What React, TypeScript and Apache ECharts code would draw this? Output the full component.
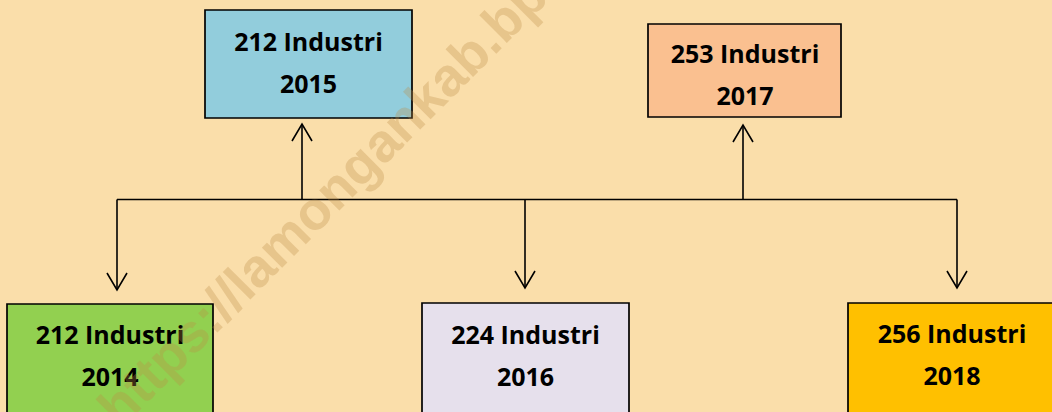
import React, { useEffect, useRef } from "react";
import * as echarts from "echarts";

// ---- Data ----
const years = ["2014", "2015", "2016", "2017", "2018"];
const industryCounts = [212, 212, 224, 253, 256];
const unitLabel = "Industri";
const watermarkText = "https://lamongankab.bps.go.id";

// ---- Styles ----
const boxColors = ["#92D050", "#92CDDC", "#E6E0EC", "#FAC090", "#FFC000"];
const BG = "#FADEAA";

// ---- Layout (diagram positions in pixel-like units of the hidden axes) ----
const boxLayout = [
  { x0: 7, y0: 304, x1: 213, y1: 440, cx: 110, cy: 355 },
  { x0: 205, y0: 10, x1: 412, y1: 118, cx: 308.5, cy: 62 },
  { x0: 422, y0: 303, x1: 629, y1: 440, cx: 525.5, cy: 355 },
  { x0: 648, y0: 24, x1: 841, y1: 117, cx: 745, cy: 74 },
  { x0: 848, y0: 303, x1: 1058, y1: 440, cx: 952, cy: 354 },
];
const BUS_Y = 199.5;
const linkLayout = [
  { x: 117, tip: 290, dir: 1 },
  { x: 302, tip: 124, dir: -1 },
  { x: 525, tip: 288, dir: 1 },
  { x: 743, tip: 125, dir: -1 },
  { x: 957, tip: 288, dir: 1 },
];

export default function App() {
  const ref = useRef<HTMLDivElement>(null);
  useEffect(() => {
    if (!ref.current) return;
    const chart = echarts.init(ref.current, null, { renderer: "svg" });
    const boxData = years.map((y, i) => [i, industryCounts[i]]);
    chart.setOption({
      animation: false,
      backgroundColor: BG,
      grid: { left: 0, right: 0, top: 0, bottom: 0 },
      xAxis: { type: "value", min: 0, max: 1052, show: false },
      yAxis: { type: "value", min: 0, max: 412, inverse: true, show: false },
      series: [
        {
          type: "custom",
          name: "bus",
          data: [[0, 0]],
          z: 1,
          renderItem: (params: any, api: any) => {
            const a = api.coord([linkLayout[0].x, BUS_Y]);
            const b = api.coord([linkLayout[linkLayout.length - 1].x, BUS_Y]);
            return {
              type: "line",
              shape: { x1: a[0], y1: a[1], x2: b[0], y2: b[1] },
              style: { stroke: "#000", lineWidth: 1.6 },
            };
          },
        },
        {
          type: "custom",
          name: "links",
          data: boxData,
          z: 1,
          renderItem: (params: any, api: any) => {
            const L = linkLayout[params.dataIndex];
            const s = api.coord([L.x, BUS_Y]);
            const t = api.coord([L.x, L.tip]);
            const back = -L.dir * 17;
            return {
              type: "group",
              children: [
                {
                  type: "line",
                  shape: { x1: s[0], y1: s[1], x2: t[0], y2: t[1] },
                  style: { stroke: "#000", lineWidth: 1.6 },
                },
                {
                  type: "polyline",
                  shape: {
                    points: [
                      [t[0] - 10, t[1] + back],
                      [t[0], t[1]],
                      [t[0] + 10, t[1] + back],
                    ],
                  },
                  style: { stroke: "#000", lineWidth: 1.6, fill: null },
                },
              ],
            };
          },
        },
        {
          type: "custom",
          name: "boxes",
          data: boxData,
          z: 2,
          renderItem: (params: any, api: any) => {
            const i = params.dataIndex;
            const B = boxLayout[i];
            const p0 = api.coord([B.x0, B.y0]);
            const p1 = api.coord([B.x1, B.y1]);
            const c = api.coord([B.cx, B.cy]);
            return {
              type: "group",
              children: [
                {
                  type: "rect",
                  shape: { x: p0[0], y: p0[1], width: p1[0] - p0[0], height: p1[1] - p0[1] },
                  style: { fill: boxColors[i], stroke: "#000", lineWidth: 1.7 },
                },
                {
                  type: "text",
                  x: c[0],
                  y: c[1],
                  style: {
                    text: `${api.value(1)} ${unitLabel}\n${years[i]}`,
                    font: 'bold 25px "Open Sans"',
                    fill: "#000",
                    align: "center",
                    verticalAlign: "middle",
                    lineHeight: 42,
                  },
                },
              ],
            };
          },
        },
      ],
      graphic: [
        {
          type: "text",
          x: 107,
          y: 416,
          rotation: Math.PI / 4,
          z: 100,
          silent: true,
          style: {
            text: watermarkText,
            font: 'bold 54px "Liberation Sans"',
            fill: "rgba(190,140,70,0.3)",
            align: "left",
            verticalAlign: "middle",
          },
        },
      ],
    });
    return () => chart.dispose();
  }, []);
  return (
    <div
      ref={ref}
      style={{ position: "fixed", left: 0, top: 0, width: 1052, height: 412 }}
    />
  );
}
